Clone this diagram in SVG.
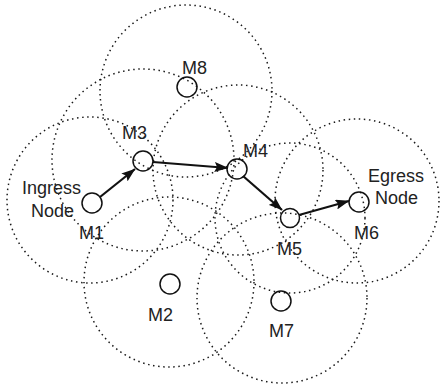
<svg xmlns="http://www.w3.org/2000/svg" width="441" height="386" viewBox="0 0 441 386">
<style>
.range{fill:none;stroke:#1a1a1a;stroke-width:1.5;stroke-dasharray:1.5 3.6}
.node{fill:none;stroke:#111;stroke-width:1.5}
.lbl{font-family:"Liberation Sans",Arial,Helvetica,sans-serif;font-size:18px;fill:#222}
.hop{stroke:#111;stroke-width:2.2;fill:none;marker-end:url(#ah)}
</style>
<defs>
<marker id="ah" viewBox="0 0 14 10" refX="13.5" refY="5" markerWidth="14" markerHeight="10" markerUnits="userSpaceOnUse" orient="auto">
<path d="M0,0 L14,5 L0,10 L2.5,5 z" fill="#111"/>
</marker>
</defs>
<g id="ranges">
<circle class="range" cx="186" cy="91" r="86"/>
<circle class="range" cx="143" cy="160" r="91"/>
<circle class="range" cx="90" cy="200" r="83"/>
<circle class="range" cx="169" cy="282" r="85"/>
<circle class="range" cx="282" cy="298" r="85"/>
<circle class="range" cx="357" cy="201" r="82"/>
<circle class="range" cx="238" cy="170" r="85"/>
<circle class="range" cx="290" cy="218" r="75"/>
</g>
<g id="connectors">
<line class="hop" x1="100" y1="197" x2="135" y2="169"/>
<line class="hop" x1="153" y1="162" x2="228" y2="168"/>
<line class="hop" x1="243" y1="176" x2="282" y2="210"/>
<line class="hop" x1="299" y1="215" x2="349" y2="201"/>
</g>
<g id="M1"><circle class="node" cx="92" cy="203" r="10"/><text class="lbl" x="22" y="194">Ingress</text><text class="lbl" x="31" y="217">Node</text><text class="lbl" x="79" y="239">M1</text></g>
<g id="M2"><circle class="node" cx="170" cy="284" r="10"/><text class="lbl" x="148" y="321">M2</text></g>
<g id="M3"><circle class="node" cx="143" cy="161" r="10"/><text class="lbl" x="122" y="139">M3</text></g>
<g id="M4"><circle class="node" cx="237" cy="169" r="10"/><text class="lbl" x="243" y="157">M4</text></g>
<g id="M5"><circle class="node" cx="290" cy="218" r="9.5"/><text class="lbl" x="277" y="255">M5</text></g>
<g id="M6"><circle class="node" cx="359" cy="202" r="10"/><text class="lbl" x="368" y="182">Egress</text><text class="lbl" x="375" y="204">Node</text><text class="lbl" x="354" y="239">M6</text></g>
<g id="M7"><circle class="node" cx="281" cy="301" r="10"/><text class="lbl" x="269" y="337">M7</text></g>
<g id="M8"><circle class="node" cx="187" cy="87" r="10"/><text class="lbl" x="182" y="74">M8</text></g>
</svg>
